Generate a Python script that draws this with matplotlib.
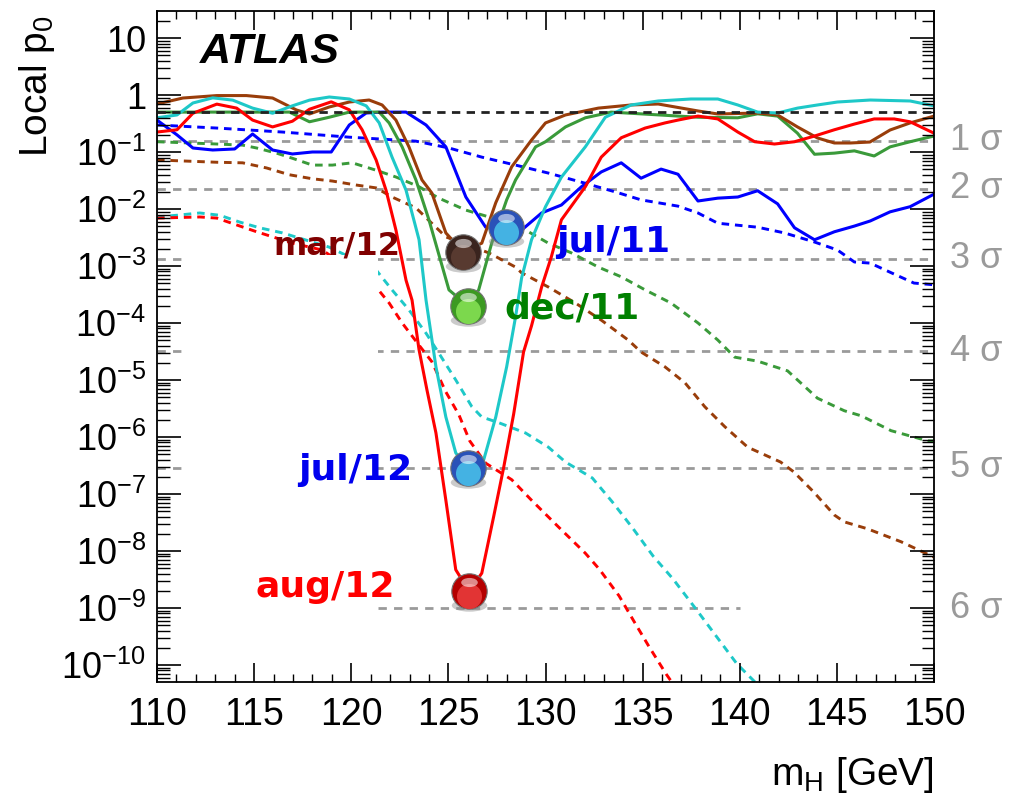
import numpy as np
import matplotlib
matplotlib.use('Agg')
import matplotlib.pyplot as plt
from matplotlib.patches import Rectangle
from matplotlib.path import Path
from matplotlib.transforms import offset_copy, blended_transform_factory
from matplotlib.ticker import LogLocator, FuncFormatter, MultipleLocator, FixedLocator

plt.rcParams['font.family'] = ['Liberation Sans', 'DejaVu Sans']
plt.rcParams['mathtext.default'] = 'regular'

jul11_mass = [110, 111.03, 111.85, 112.87, 114.0, 114.92, 115.95, 116.97, 118.0, 118.97, 119.9, 120.77,
              121.59, 122.82, 123.85, 124.87, 125.9, 126.92, 127.96, 128.77, 129.8, 130.82, 131.85, 132.87,
              133.9, 134.92, 135.95, 136.82, 137.85, 138.87, 139.9, 140.92, 141.95, 142.82, 143.85, 144.87,
              145.9, 146.72, 147.74, 148.77, 150]
jul11_obs = [-0.44, -0.70, -0.93, -0.965, -0.947, -0.684, -0.965, -1.035, -1.0, -1.0, -0.526, -0.316,
             -0.30, -0.30, -0.526, -0.91, -1.79, -2.32, -2.31, -2.37, -2.07, -1.93, -1.61, -1.35,
             -1.19, -1.46, -1.30, -1.39, -1.86, -1.81, -1.79, -1.68, -1.91, -2.33, -2.54, -2.40,
             -2.30, -2.21, -2.05, -1.96, -1.74]

dec11_mass = [110, 116.82, 117.85, 118.87, 119.9, 121.44, 121.95, 122.62, 123.33, 124.0, 125.03, 126.0,
              126.56, 127.23, 128.0, 128.46, 129.49, 130.0, 131.03, 132.05, 133.38, 137.85, 139.9, 140.92,
              141.95, 142.97, 143.85, 144.87, 145.9, 146.92, 147.74, 148.77, 150]
dec11_obs = [-0.30, -0.30, -0.47, -0.39, -0.30, -0.30, -0.49, -0.91, -1.49, -2.19, -3.42, -3.70,
             -3.42, -2.60, -1.84, -1.49, -0.91, -0.82, -0.56, -0.40, -0.30, -0.39, -0.40, -0.33,
             -0.37, -0.67, -1.04, -1.02, -0.98, -1.07, -0.91, -0.82, -0.72]

mar12_mass = [110, 111.33, 113.08, 114.6, 115.95, 117.18, 117.85, 118.87, 119.9, 120.92, 121.59, 122.3,
              122.97, 123.64, 124.15, 124.87, 125.75, 126.72, 127.44, 128.26, 129.28, 130.0, 131.03, 132.72,
              134.41, 135.8, 137.85, 138.87, 140.92, 141.95, 142.97, 144.0, 144.87, 145.7, 146.7, 147.74,
              148.77, 150]
mar12_obs = [-0.158, -0.053, -0.01, -0.01, -0.053, -0.263, -0.333, -0.21, -0.123, -0.088, -0.175, -0.44,
             -0.91, -1.49, -1.72, -2.42, -2.75, -2.60, -1.89, -1.26, -0.79, -0.49, -0.35, -0.23,
             -0.175, -0.158, -0.28, -0.333, -0.316, -0.35, -0.56, -0.754, -0.842, -0.842, -0.825, -0.614,
             -0.49, -0.37]

jul12_mass = [110, 111.03, 111.85, 112.87, 113.9, 114.92, 115.95, 116.97, 117.85, 118.87, 119.9, 120.77,
              121.44, 122.1, 122.82, 123.49, 123.85, 124.36, 124.87, 125.38, 126.0, 126.82, 127.44, 128.0,
              128.46, 128.77, 129.28, 130.0, 130.82, 132.05, 133.08, 134.41, 135.8, 137.49, 138.87, 139.9,
              140.92, 141.95, 142.97, 144.0, 145.03, 146.72, 148.77, 150]
jul12_obs = [-0.40, -0.35, -0.14, -0.05, -0.09, -0.23, -0.32, -0.19, -0.09, -0.035, -0.07, -0.19,
             -0.49, -1.09, -1.67, -2.54, -3.60, -4.77, -5.65, -6.28, -6.55, -6.40, -5.65, -4.77,
             -3.89, -3.21, -2.54, -1.96, -1.44, -0.91, -0.39, -0.175, -0.105, -0.07, -0.07, -0.175,
             -0.30, -0.316, -0.23, -0.175, -0.123, -0.088, -0.105, -0.19]

aug12_mass = [110, 111.03, 111.85, 113.08, 114.1, 114.92, 115.95, 116.97, 117.85, 118.97, 119.9, 120.56,
              121.28, 121.79, 122.3, 122.82, 123.13, 123.49, 123.9, 124.36, 124.87, 125.38, 126.07, 126.72,
              127.33, 127.85, 128.36, 128.87, 129.28, 129.8, 130.3, 130.82, 132.05, 132.87, 133.9, 135.13,
              136.15, 136.82, 137.85, 138.87, 139.9, 140.77, 141.79, 142.82, 143.85, 144.87, 145.9, 146.92,
              147.95, 148.77, 150]
aug12_obs = [-0.65, -0.61, -0.32, -0.16, -0.23, -0.44, -0.56, -0.46, -0.25, -0.12, -0.26, -0.61,
             -1.14, -1.67, -2.37, -3.25, -3.60, -4.47, -5.18, -5.93, -7.11, -8.33, -8.71, -8.39,
             -7.40, -6.53, -5.60, -4.51, -4.05, -3.37, -2.84, -2.19, -1.61, -1.09, -0.75, -0.58,
             -0.49, -0.44, -0.37, -0.42, -0.65, -0.82, -0.86, -0.82, -0.72, -0.61, -0.51, -0.42,
             -0.42, -0.47, -0.67]

# Expected local p0 (log10)
jul11_exp_mass = [110, 113.08, 116.46, 119.9, 123.33, 125.03, 126.72, 128.46, 130.15, 131.85, 133.59, 134.92,
                  136.82, 137.85, 138.87, 140.92, 142.3, 143.85, 145.03, 145.9, 146.72, 147.74, 148.97, 150]
jul11_exp = [-0.526, -0.58, -0.65, -0.74, -0.81, -0.93, -1.09, -1.23, -1.37, -1.53, -1.70, -1.84,
             -1.95, -2.07, -2.25, -2.32, -2.42, -2.58, -2.72, -2.93, -2.95, -3.11, -3.30, -3.33]

dec11_exp_mass = [110, 113.08, 114.41, 115.13, 116.15, 116.97, 118.0, 119.03, 120.05, 121.28, 122.31, 123.49,
                  124.51, 125.9, 127.59, 128.97, 130.15, 131.33, 132.72, 133.9, 135.13, 136.46, 137.85, 138.87,
                  139.74, 140.92, 142.46, 144.0, 145.38, 146.26, 147.79, 149.69, 150]
dec11_exp = [-0.82, -0.86, -0.88, -0.93, -1.02, -1.11, -1.23, -1.23, -1.19, -1.32, -1.44, -1.61,
             -1.81, -2.02, -2.19, -2.37, -2.60, -2.77, -3.02, -3.19, -3.42, -3.65, -4.0, -4.30,
             -4.60, -4.67, -4.84, -5.32, -5.54, -5.63, -5.89, -6.07, -6.07]

mar12_exp_mass = [110, 113.08, 114.41, 115.64, 116.82, 118.0, 119.03, 120.26, 121.28, 122.1, 123.33, 124.87,
                  127.08, 128.46, 128.77, 130.15, 131.54, 132.87, 134.26, 134.92, 136.15, 137.18, 138.2, 139.23,
                  140.41, 142.1, 142.77, 143.79, 144.87, 145.38, 146.56, 148.31, 150]
mar12_exp = [-1.14, -1.18, -1.19, -1.28, -1.40, -1.47, -1.51, -1.58, -1.63, -1.79, -1.98, -2.49,
             -2.77, -3.02, -3.12, -3.37, -3.65, -3.95, -4.30, -4.51, -4.77, -5.05, -5.47, -5.82,
             -6.18, -6.44, -6.61, -6.96, -7.37, -7.49, -7.61, -7.84, -8.11]

jul12_exp_mass = [110, 111.03, 112.2, 113.23, 114.26, 115.28, 116.46, 118.87, 121.28, 122.1, 122.97, 123.85,
                  124.51, 125.38, 126.21, 126.72, 127.59, 128.97, 130.15, 131.03, 132.41, 133.44, 134.51, 135.54,
                  136.56, 137.79, 138.82, 139.85, 140.87]
jul12_exp = [-2.14, -2.11, -2.07, -2.11, -2.23, -2.33, -2.42, -2.67, -3.07, -3.42, -3.77, -4.18,
             -4.53, -5.0, -5.47, -5.65, -5.75, -5.93, -6.18, -6.44, -6.72, -7.14, -7.61, -8.09,
             -8.49, -9.04, -9.51, -9.98, -10.33]

aug12_exp_mass = [110, 112.2, 113.08, 114.1, 115.13, 116.15, 116.97, 118.51, 121.28, 121.95, 122.62, 123.49,
                  124.15, 124.87, 125.54, 126.1, 126.92, 128.26, 129.28, 130.67, 132.05, 132.77, 133.79, 134.51,
                  135.33, 136.21, 136.56]
aug12_exp = [-2.16, -2.14, -2.16, -2.28, -2.40, -2.51, -2.60, -2.72, -3.37, -3.65, -4.0, -4.39,
             -4.68, -5.21, -5.61, -6.07, -6.46, -6.75, -7.11, -7.58, -8.04, -8.32, -8.79, -9.21,
             -9.68, -10.16, -10.33]

# sigma reference lines
sigma_names = ['1 σ', '2 σ', '3 σ', '4 σ', '5 σ', '6 σ']
sigma_p0 = [0.1587, 0.02275, 1.35e-3, 3.17e-5, 2.87e-7, 9.87e-10]
sigma_xmin = [110, 110, 110, 110, 110, 121.37]
sigma_xmax = [150, 150, 150, 150, 150, 140]

# y axis decades that carry labels
y_decades = [1, 0, -1, -2, -3, -4, -5, -6, -7, -8, -9, -10]

# date markers
date_labels = ['jul/11', 'dec/11', 'mar/12', 'jul/12', 'aug/12']
ball_mass = [127.96, 126.02, 125.76, 125.99, 126.07]
ball_log10p = [-2.31, -3.70, -2.75, -6.55, -8.71]
label_mass = [130.54, 127.87, 122.51, 123.13, 122.24]
label_log10p = [-2.75, -3.93, -2.79, -6.75, -8.81]
label_ha = ['left', 'left', 'right', 'right', 'right']
label_size = [26, 26, 23, 26, 26]

line_colors = ['#0000ff', '#3a9a3a', '#993d0a', '#1ec8c8', '#ff0000']
text_colors = ['#0000ee', '#008000', '#800000', '#0000ee', '#ff0000']
ball_dark = ['#2a52b8', '#3c9a22', '#3a241e', '#2a52b8', '#b40000']
ball_light = ['#48bde8', '#84e052', '#5c3d33', '#48bde8', '#e83a3a']

obs = [(jul11_mass, jul11_obs), (dec11_mass, dec11_obs), (mar12_mass, mar12_obs),
       (jul12_mass, jul12_obs), (aug12_mass, aug12_obs)]
exp = [(jul11_exp_mass, jul11_exp), (dec11_exp_mass, dec11_exp), (mar12_exp_mass, mar12_exp),
       (jul12_exp_mass, jul12_exp), (aug12_exp_mass, aug12_exp)]

fig = plt.figure(figsize=(10.13, 8.08), dpi=100)
ax = fig.add_axes([157 / 1013, 1 - 682 / 808, (934 - 157) / 1013, (682 - 11) / 808])
ax.set_yscale('log')
ax.set_xlim(110, 150)
ax.set_ylim(10 ** -10.30, 10 ** 1.474)

# gray sigma lines and the 0.5 line
for p, x0, x1 in zip(sigma_p0, sigma_xmin, sigma_xmax):
    ax.plot([x0, x1], [p, p], color='#9a9a9a', lw=2.0, dashes=(3, 2.6), zorder=1.5)
ax.plot([110, 150], [0.5, 0.5], color='#222222', lw=2.0, dashes=(3, 2.3), zorder=3)

for (m, lp), c in zip(exp, line_colors):
    ax.plot(m, 10 ** np.array(lp), color=c, lw=2.1, dashes=(2.6, 2.0), zorder=2)
for (m, lp), c in zip(obs, line_colors):
    ax.plot(m, 10 ** np.array(lp), color=c, lw=2.2, zorder=2.1)

# blank area left by the removed legend box
ax.add_patch(Rectangle((111.29, 10 ** -10.5), 121.37 - 111.29, 10 ** -2.81 - 10 ** -10.5,
                       facecolor='white', edgecolor='none', zorder=2.4))
ax.set_axisbelow(False)

# glossy markers
circ = Path.unit_circle()
flat = Path(circ.vertices * [1.0, 0.35], circ.codes)
cap = Path(circ.vertices * [1.0, 0.55], circ.codes)
bsize = 650
for m, lp, dk, lt in zip(ball_mass, ball_log10p, ball_dark, ball_light):
    p = 10 ** lp
    tr_sh = offset_copy(ax.transData, fig=fig, x=0, y=-10, units='points')
    ax.scatter([m], [p], s=bsize, marker=flat, color='0.55', alpha=0.45, linewidths=0,
               transform=tr_sh, zorder=5)
    ax.scatter([m], [p], s=bsize, marker='o', color=dk, edgecolors='0.45', linewidths=0.8, zorder=6)
    tr_lo = offset_copy(ax.transData, fig=fig, x=0, y=-3.5, units='points')
    ax.scatter([m], [p], s=bsize * 0.5, marker='o', color=lt, alpha=0.9, linewidths=0,
               transform=tr_lo, zorder=7)
    tr_hi = offset_copy(ax.transData, fig=fig, x=0, y=6.5, units='points')
    ax.scatter([m], [p], s=bsize * 0.22, marker=cap, color='white', alpha=0.55, linewidths=0,
               transform=tr_hi, zorder=8)

for txt, m, lp, ha, fs, c in zip(date_labels, label_mass, label_log10p, label_ha, label_size, text_colors):
    ax.text(m, 10 ** lp, txt, ha=ha, va='baseline', fontsize=fs, color=c,
            family='DejaVu Sans', fontweight='bold', zorder=9)

# sigma labels on the right
tr_right = blended_transform_factory(ax.transAxes, ax.transData)
for name, p in zip(sigma_names, sigma_p0):
    ax.text(1.02, p, name, transform=tr_right, ha='left', va='center', fontsize=26,
            color='#9a9a9a', clip_on=False)

ax.text(0.055, 0.939, 'ATLAS', transform=ax.transAxes, fontsize=31, fontweight='bold',
        style='italic', ha='left', va='center')

# axes and ticks
ax.xaxis.set_major_locator(MultipleLocator(5))
ax.xaxis.set_minor_locator(MultipleLocator(1))
ax.yaxis.set_major_locator(FixedLocator([10.0 ** e for e in y_decades]))
ax.yaxis.set_minor_locator(LogLocator(base=10, subs=np.arange(2, 10), numticks=30))


def ylab(v, pos):
    e = int(round(np.log10(v)))
    if e == 1:
        return '10'
    if e == 0:
        return '1'
    return '$10^{%d}$' % e


ax.yaxis.set_major_formatter(FuncFormatter(ylab))
ax.tick_params(which='both', direction='in', top=True, right=True)
ax.tick_params(axis='x', which='major', length=14, width=1.2, pad=11, labelsize=27)
ax.tick_params(axis='x', which='minor', length=6, width=1)
ax.tick_params(axis='y', which='major', length=17, width=1.2, pad=8, labelsize=26)
ax.tick_params(axis='y', which='minor', length=9, width=1)
for s in ax.spines.values():
    s.set_linewidth(1.3)

fig.text(37 / 1013, 1 - 15 / 808, 'Local p$_0$', rotation=90, ha='center', va='top', fontsize=28)
fig.text(934 / 1013, 1 - 775 / 808, 'm$_H$ [GeV]', ha='right', va='center', fontsize=28)

fig.savefig('out.png', dpi=100)
